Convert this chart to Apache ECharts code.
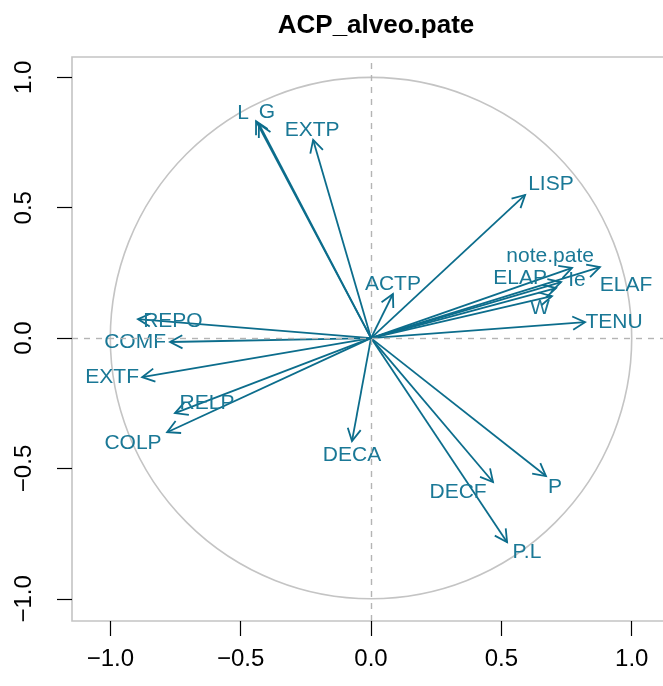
<!DOCTYPE html>
<html>
<head>
<meta charset="utf-8">
<script src="https://cdn.jsdelivr.net/npm/echarts@6/dist/echarts.min.js"></script>
<style>html,body{margin:0;padding:0;background:#fff;}#c{width:663px;height:686px;}</style>
</head>
<body>
<div id="c"></div>
<script>
// Variables of the correlation circle (PCA, dims 1 & 2)
const varNames = ['L','G','EXTP','LISP','ACTP','note.pate','ELAF','Ie','ELAP','W','TENU','REPO','COMF','EXTF','RELP','COLP','DECA','DECF','P','P.L'];
const dim1 = [-0.441,-0.430,-0.222,0.591,0.084,0.771,0.878,0.729,0.710,0.694,0.821,-0.894,-0.771,-0.878,-0.752,-0.782,-0.073,0.468,0.671,0.522];
const dim2 = [0.832,0.821,0.760,0.549,0.169,0.269,0.272,0.215,0.192,0.161,0.061,0.073,-0.015,-0.150,-0.288,-0.361,-0.395,-0.552,-0.529,-0.783];
// label anchor points (data units)
const labelX = [-0.491,-0.399,-0.226,0.690,0.084,0.687,0.978,0.790,0.572,0.648,0.932,-0.760,-0.905,-0.993,-0.629,-0.913,-0.073,0.334,0.706,0.598];
const labelY = [0.863,0.867,0.798,0.591,0.207,0.315,0.203,0.222,0.230,0.115,0.061,0.065,-0.015,-0.150,-0.249,-0.403,-0.449,-0.591,-0.572,-0.821];
const tickValues = [-1,-0.5,0,0.5,1];
const circleRadius = [1];
const titleText = 'ACP_alveo.pate';

const COL = '#0c6d8c';
const FONT = 'Liberation Sans, Arial, Helvetica, sans-serif';

const arrowData = varNames.map((n,i)=>[dim1[i], dim2[i], n]);
const labelData = varNames.map((n,i)=>[labelX[i], labelY[i], n]);

const fmt = v => (v < 0 ? '\u2212' : '') + Math.abs(v).toFixed(1);

const chart = echarts.init(document.getElementById('c'), null, {renderer:'canvas'});
chart.setOption({
  animation: false,
  title: {
    text: titleText, left: 371, top: 8, textAlign: 'center',
    textStyle: {fontFamily: FONT, fontWeight: 'bold', fontSize: 26, color: '#000'}
  },
  grid: {left: 72, top: 57, bottom: 65, right: 0, show: false},
  xAxis: {
    type: 'value', min: -1.147, max: 1.12,
    axisLine: {show: false, onZero: false},
    splitLine: {show: false},
    axisTick: {show: true, length: 15, customValues: tickValues, lineStyle: {color: '#000', width: 1.2}},
    axisLabel: {customValues: tickValues, formatter: fmt, fontSize: 24, fontFamily: FONT, color: '#000', margin: 26}
  },
  yAxis: {
    type: 'value', min: -1.085, max: 1.078,
    axisLine: {show: false, onZero: false},
    splitLine: {show: false},
    axisTick: {show: true, length: 15, customValues: tickValues, lineStyle: {color: '#000', width: 1.2}},
    axisLabel: {customValues: tickValues, formatter: fmt, fontSize: 24, fontFamily: FONT, color: '#000', margin: 36, rotate: 90}
  },
  series: [
    {
      type: 'custom', name: 'box', data: [[0, 0]], silent: true, clip: false, z: 0,
      renderItem: function (params, api) {
        const cs = params.coordSys;
        const x0 = cs.x, y0 = cs.y, x1 = cs.x + cs.width + 20, y1 = cs.y + cs.height;
        return {type: 'polyline', shape: {points: [[x1, y0], [x0, y0], [x0, y1], [x1, y1]]},
          style: {fill: null, stroke: '#c4c4c4', lineWidth: 1.6}};
      }
    },
    {
      type: 'custom', name: 'circle', data: circleRadius.map(r => [0, 0, r]), silent: true, clip: true, z: 1,
      renderItem: function (params, api) {
        const c = api.coord([api.value(0), api.value(1)]);
        const e = api.coord([api.value(2), 0]);
        return {type: 'circle', shape: {cx: c[0], cy: c[1], r: e[0] - c[0]},
          style: {fill: null, stroke: '#c4c4c4', lineWidth: 1.6}};
      },
      markLine: {
        silent: true, symbol: ['none','none'], label: {show: false},
        lineStyle: {color: '#b4b4b4', type: [6, 6], width: 1.4},
        data: [{xAxis: 0}, {yAxis: 0}]
      }
    },
    {
      type: 'custom', name: 'arrows', data: arrowData, silent: true, z: 3,
      renderItem: function (params, api) {
        const p0 = api.coord([0, 0]);
        const p1 = api.coord([api.value(0), api.value(1)]);
        const a = Math.atan2(p1[1] - p0[1], p1[0] - p0[0]);
        const L = 14, phi = 28 * Math.PI / 180;
        const h1 = [p1[0] - L * Math.cos(a - phi), p1[1] - L * Math.sin(a - phi)];
        const h2 = [p1[0] - L * Math.cos(a + phi), p1[1] - L * Math.sin(a + phi)];
        const st = {stroke: COL, lineWidth: 1.8, fill: null};
        return {type: 'group', children: [
          {type: 'line', shape: {x1: p0[0], y1: p0[1], x2: p1[0], y2: p1[1]}, style: st},
          {type: 'polyline', shape: {points: [h1, p1, h2]}, style: st}
        ]};
      }
    },
    {
      type: 'custom', name: 'labels', data: labelData, silent: true, z: 4,
      renderItem: function (params, api) {
        const p = api.coord([api.value(0), api.value(1)]);
        return {type: 'text', x: p[0], y: p[1], style: {
          text: labelData[params.dataIndex][2], fill: '#1a7896', font: '21px ' + FONT,
          align: 'center', verticalAlign: 'middle'}};
      }
    }
  ]
});
</script>
</body>
</html>
